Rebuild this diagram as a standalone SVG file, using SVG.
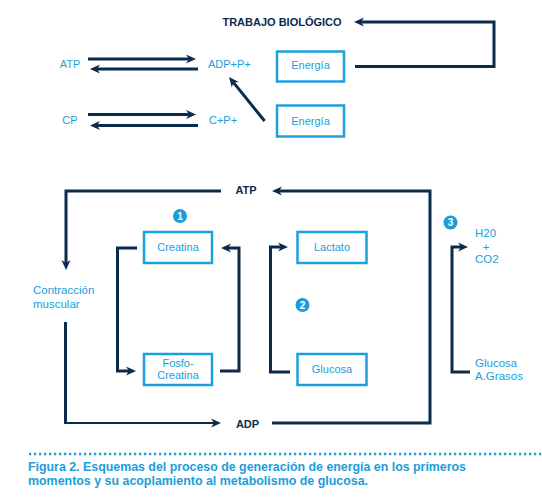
<svg xmlns="http://www.w3.org/2000/svg" width="542" height="500" viewBox="0 0 542 500">
<style>
.ln{fill:none;stroke:#0b2b4c;stroke-width:3;stroke-linejoin:miter;stroke-linecap:butt}
.thin{stroke-width:2}
.box{fill:#fff;stroke:#1aa0dd;stroke-width:2.5}
.bt{font-family:"Liberation Sans",Arial,sans-serif;fill:#1a9edb;font-size:11px}
.lb{font-family:"Liberation Sans",Arial,sans-serif;fill:#1a9edb;font-size:11.5px}
.dk{font-family:"Liberation Sans",Arial,sans-serif;fill:#0b2b4c;font-size:11px;font-weight:bold}
.num{font-family:"Liberation Sans",Arial,sans-serif;fill:#fff;font-size:10px;font-weight:bold}
.cap{font-family:"Liberation Sans",Arial,sans-serif;fill:#1a9edb;font-size:12px;font-weight:bold}
</style>
<defs>
<marker id="ah" markerUnits="userSpaceOnUse" markerWidth="12" markerHeight="10" refX="3" refY="5" orient="auto">
<path d="M0,0.5 L10,5 L0,9.5 L3,5 Z" fill="#0b2b4c"/>
</marker>
</defs>

<g id="connectors">
<path class="ln" d="M88,59 H189" marker-end="url(#ah)"/>
<path class="ln" d="M198,69 H97" marker-end="url(#ah)"/>
<path class="ln" d="M88,114.5 H189" marker-end="url(#ah)"/>
<path class="ln" d="M198,125.5 H97" marker-end="url(#ah)"/>
<path class="ln" d="M264.6,121 L233.4,82.4" marker-end="url(#ah)"/>
<path class="ln" d="M355,66.5 H494 V22 H361" marker-end="url(#ah)"/>
<path class="ln" d="M272,423 H430 V191 H279" marker-end="url(#ah)"/>
<path class="ln" d="M221,191 H66 V263" marker-end="url(#ah)"/>
<path class="ln" d="M65.5,322 V423"/>
<path class="ln thin" d="M64,423 H214" marker-end="url(#ah)"/>
<path class="ln" d="M137,248 H117.5 V371 H129" marker-end="url(#ah)"/>
<path class="ln" d="M220,371 H239 V248 H228" marker-end="url(#ah)"/>
<path class="ln" d="M290,372 H270.5 V247 H281" marker-end="url(#ah)"/>
<path class="ln" d="M470,372 H452 V247 H461" marker-end="url(#ah)"/>
</g>

<g id="trabajo"><text class="dk" x="282" y="26" text-anchor="middle">TRABAJO BIOLÓGICO</text></g>
<g id="atp-top"><text class="bt" x="70" y="67.5" text-anchor="middle" font-size="10.5">ATP</text></g>
<g id="adp-top"><text class="bt" x="208" y="67.5" font-size="10.5">ADP+P+</text></g>
<g id="cp"><text class="bt" x="70" y="123.5" text-anchor="middle" font-size="10.5">CP</text></g>
<g id="cpp"><text class="bt" x="209" y="123.5" font-size="10.5">C+P+</text></g>
<g id="energia1"><rect class="box" x="277" y="51.5" width="67" height="30"/><text class="bt" x="310.5" y="69" text-anchor="middle" font-size="12">Energía</text></g>
<g id="energia2"><rect class="box" x="277" y="105.5" width="67" height="31"/><text class="bt" x="310.5" y="124.5" text-anchor="middle" font-size="12">Energía</text></g>

<g id="atp-bottom"><text class="dk" x="246" y="193.5" text-anchor="middle">ATP</text></g>
<g id="adp-bottom"><text class="dk" x="247.5" y="428" text-anchor="middle">ADP</text></g>
<g id="contraccion"><text class="lb" x="33" y="294" font-size="12">Contracción</text><text class="lb" x="33" y="307.5" font-size="12">muscular</text></g>

<g id="n1"><circle cx="180" cy="216" r="7" fill="#1a9edb"/><text class="num" x="180" y="219.6" text-anchor="middle">1</text></g>
<g id="n2"><circle cx="302.5" cy="305" r="7" fill="#1a9edb"/><text class="num" x="302.5" y="308.6" text-anchor="middle">2</text></g>
<g id="n3"><circle cx="450.5" cy="222.5" r="7" fill="#1a9edb"/><text class="num" x="450.5" y="226.1" text-anchor="middle">3</text></g>

<g id="creatina"><rect class="box" x="144" y="232" width="68" height="31"/><text class="bt" x="178" y="250.7" text-anchor="middle">Creatina</text></g>
<g id="fosfocreatina"><rect class="box" x="144" y="354" width="68" height="31"/><text class="bt" x="178" y="367.3" text-anchor="middle">Fosfo-</text><text class="bt" x="178" y="379.3" text-anchor="middle">Creatina</text></g>
<g id="lactato"><rect class="box" x="297.5" y="232" width="69" height="31"/><text class="bt" x="332" y="250.7" text-anchor="middle">Lactato</text></g>
<g id="glucosa-box"><rect class="box" x="297.5" y="354" width="69" height="31"/><text class="bt" x="332" y="373.3" text-anchor="middle">Glucosa</text></g>
<g id="h2o"><text class="lb" x="475" y="236.7">H20</text><text class="lb" x="486" y="250.5" text-anchor="middle">+</text><text class="lb" x="475" y="263.3">CO2</text></g>
<g id="sustratos"><text class="lb" x="475" y="367.3">Glucosa</text><text class="lb" x="475" y="380">A.Grasos</text></g>

<g id="caption">
<line x1="29" y1="454" x2="542" y2="454" stroke="#1a9edb" stroke-width="2.5" stroke-dasharray="2.2 2.8"/>
<text class="cap" x="28" y="471" textLength="438" lengthAdjust="spacingAndGlyphs">Figura 2. Esquemas del proceso de generación de energía en los primeros</text>
<text class="cap" x="28" y="485" textLength="340" lengthAdjust="spacingAndGlyphs">momentos y su acoplamiento al metabolismo de glucosa.</text>
</g>
</svg>
